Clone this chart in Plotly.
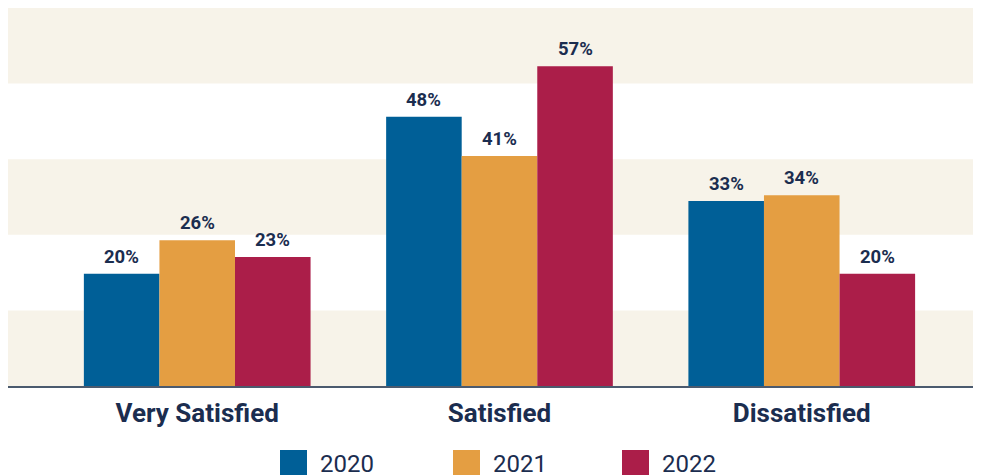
import plotly.graph_objects as go

categories = ["Very Satisfied", "Satisfied", "Dissatisfied"]
years = ["2020", "2021", "2022"]
values_2020 = [20, 48, 33]
values_2021 = [26, 41, 34]
values_2022 = [23, 57, 20]
series = [values_2020, values_2021, values_2022]
colors = ["#005f97", "#e49e42", "#ab1e49"]

TEXT = "#1b2d4f"
BAND = "#f7f3e9"
YMAX = 67.4

# page is offset by the body's default 8px margin
W, H = 973, 467
PLOT_W, PLOT_H = 973, 378
OFF = 8

fig = go.Figure()
for name, vals, col in zip(years, series, colors):
    fig.add_trace(go.Bar(
        x=categories, y=vals, name=name, marker=dict(color=col, line=dict(width=0)),
        showlegend=False,
    ))

# value labels
bar_w = 75.6
for i, vals in enumerate(series):
    for c, v in zip(categories, vals):
        fig.add_annotation(x=c, y=v, text=f"{v}%", showarrow=False,
                           xref="x", yref="y", yanchor="bottom",
                           xshift=(i - 1) * bar_w, yshift=4,
                           font=dict(family="Roboto", size=18.5, color=TEXT, weight="bold"))

# background bands
step = YMAX / 5
for k in range(5):
    if k % 2 == 0:
        fig.add_shape(type="rect", xref="paper", yref="y", x0=0, x1=1,
                      y0=k * step, y1=(k + 1) * step, fillcolor=BAND,
                      line=dict(width=0), layer="below")

# manual legend (page pixel positions converted to paper coords)
leg_x = [280, 453, 622]
axis_y = OFF + PLOT_H
for name, col, lx in zip(years, colors, leg_x):
    fig.add_shape(type="rect", xref="paper", yref="paper",
                  x0=(lx - OFF) / PLOT_W, x1=(lx + 27 - OFF) / PLOT_W,
                  y0=-(450 - axis_y + 27) / PLOT_H, y1=-(450 - axis_y) / PLOT_H,
                  fillcolor=col, line=dict(width=0))
    fig.add_annotation(xref="paper", yref="paper", x=(lx + 38 - OFF) / PLOT_W,
                       y=-(464 - axis_y) / PLOT_H, text=name, showarrow=False,
                       xanchor="left", yanchor="middle",
                       font=dict(family="Roboto", size=24, color=TEXT))

fig.update_layout(
    width=W, height=H,
    margin=dict(l=0, r=0, t=0, b=H - PLOT_H, autoexpand=False),
    paper_bgcolor="white", plot_bgcolor="white",
    barmode="group", bargap=0.25, bargroupgap=0,
    xaxis=dict(range=[-0.626, 2.593], showline=True, linecolor="#4b5a6e", linewidth=1.5,
               ticks="outside", ticklen=3, tickcolor="rgba(0,0,0,0)",
               tickfont=dict(family="Roboto", size=26, color=TEXT, weight="bold"),
               showgrid=False, zeroline=False),
    yaxis=dict(range=[0, YMAX], showticklabels=False, showgrid=False, zeroline=False),
)

fig.write_html("out.html")
